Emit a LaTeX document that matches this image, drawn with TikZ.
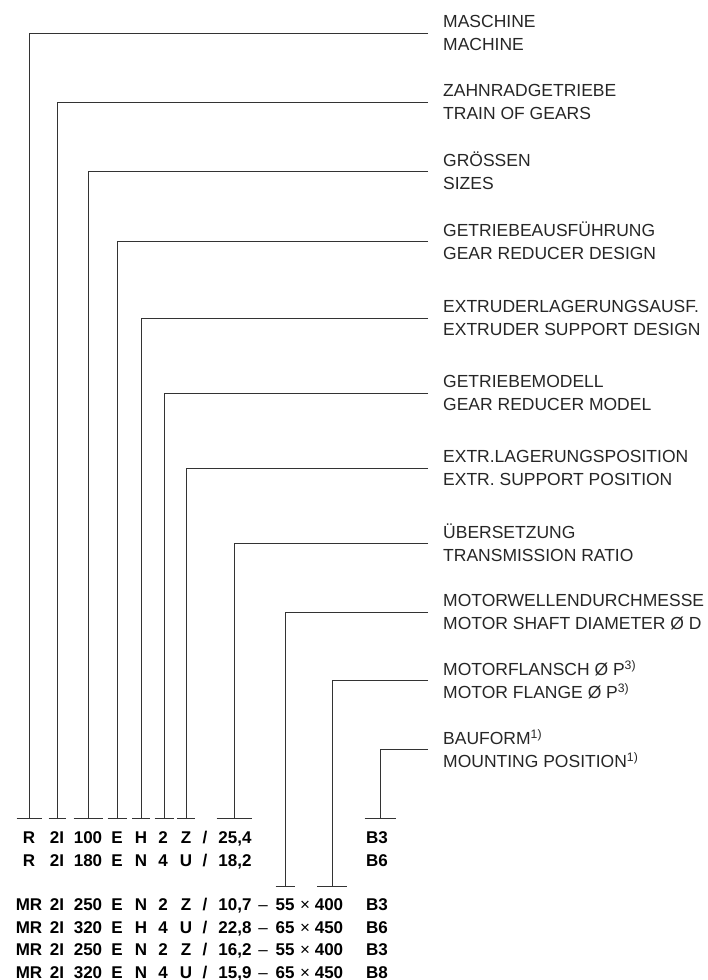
\documentclass[tikz,border=0pt]{standalone}
\usepackage{fontspec}
\setmainfont{Liberation Sans}
\begin{document}
\begin{tikzpicture}[x=1pt,y=-1pt,
  lab/.style={anchor=west, inner sep=0pt, align=left, font=\fontsize{17.5}{23}\selectfont, text=black!85},
  code/.style={anchor=base, inner sep=0pt, font=\fontsize{17}{20}\selectfont\bfseries},
  thin/.style={font=\fontsize{17}{20}\selectfont\mdseries},
  conn/.style={line width=0.9pt, draw=black!80},
]
\useasboundingbox (0,0) rectangle (707,980);
\clip (0,0) rectangle (707,980);

% labels
\node[lab] (lab1) at (443,33) {MASCHINE\\MACHINE};
\node[lab] (lab2) at (443,102) {ZAHNRADGETRIEBE\\TRAIN OF GEARS};
\node[lab] (lab3) at (443,171) {GRÖSSEN\\SIZES};
\node[lab] (lab4) at (443,241) {GETRIEBEAUSFÜHRUNG\\GEAR REDUCER DESIGN};
\node[lab] (lab5) at (443,318) {EXTRUDERLAGERUNGSAUSF.\\EXTRUDER SUPPORT DESIGN};
\node[lab] (lab6) at (443,393) {GETRIEBEMODELL\\GEAR REDUCER MODEL};
\node[lab] (lab7) at (443,468) {EXTR.LAGERUNGSPOSITION\\EXTR. SUPPORT POSITION};
\node[lab] (lab8) at (443,543) {ÜBERSETZUNG\\TRANSMISSION RATIO};
\node[lab] (lab9) at (443,612) {MOTORWELLENDURCHMESSE\\MOTOR SHAFT DIAMETER Ø D};
\node[lab] (lab10) at (443,680) {MOTORFLANSCH Ø P\textsuperscript{3)}\\MOTOR FLANGE Ø P\textsuperscript{3)}};
\node[lab] (lab11) at (443,749) {BAUFORM\textsuperscript{1)}\\MOUNTING POSITION\textsuperscript{1)}};

% T-bar points
\coordinate (t1) at (29,818);
\coordinate (t2) at (57,818);
\coordinate (t3) at (88,818);
\coordinate (t4) at (117,818);
\coordinate (t5) at (141,818);
\coordinate (t6) at (164,818);
\coordinate (t7) at (186,818);
\coordinate (t8) at (234,818);
\coordinate (t9) at (285,886);
\coordinate (t10) at (332,886);
\coordinate (t11) at (380,818);

\foreach \k/\w in {1/12.5,2/8.5,3/14.5,4/9.5,5/9,6/9.5,7/9,8/17.5,9/9.5,10/15,11/15.5}{
  \draw[conn] ([xshift=-15pt]lab\k.west) -| (t\k);
  \draw[conn] ([xshift=-\w pt]t\k) -- ([xshift=\w pt]t\k);
}

% code rows
\foreach \y/\a/\b/\c/\d/\e/\f/\g [count=\r] in
  {843/R/100/H/2/Z/{25,4}/B3, 866/R/180/N/4/U/{18,2}/B6,
   910/MR/250/N/2/Z/{10,7}/B3, 933/MR/320/H/4/U/{22,8}/B6,
   955/MR/250/N/2/Z/{16,2}/B3, 978/MR/320/N/4/U/{15,9}/B8}{
  \node[code] (a\r) at (29,\y) {\a};
  \node[code] (b\r) at (57,\y) {2I};
  \node[code] (c\r) at (88,\y) {\b};
  \node[code] (d\r) at (117,\y) {E};
  \node[code] (e\r) at (141,\y) {\c};
  \node[code] (f\r) at (163,\y) {\d};
  \node[code] (g\r) at (186,\y) {\e};
  \node[code] (h\r) at (205,\y) {/};
  \node[code] (i\r) at (235,\y) {\f};
  \node[code] (n\r) at (377,\y) {\g};
}
\foreach \y/\p/\q [count=\r from 3] in {910/55/400, 933/65/450, 955/55/400, 978/65/450}{
  \node[code,thin] (j\r) at (263,\y) {–};
  \node[code] (k\r) at (285,\y) {\p};
  \node[code,thin] (x\r) at (305,\y) {×};
  \node[code] (m\r) at (329,\y) {\q};
}
\end{tikzpicture}
\end{document}
